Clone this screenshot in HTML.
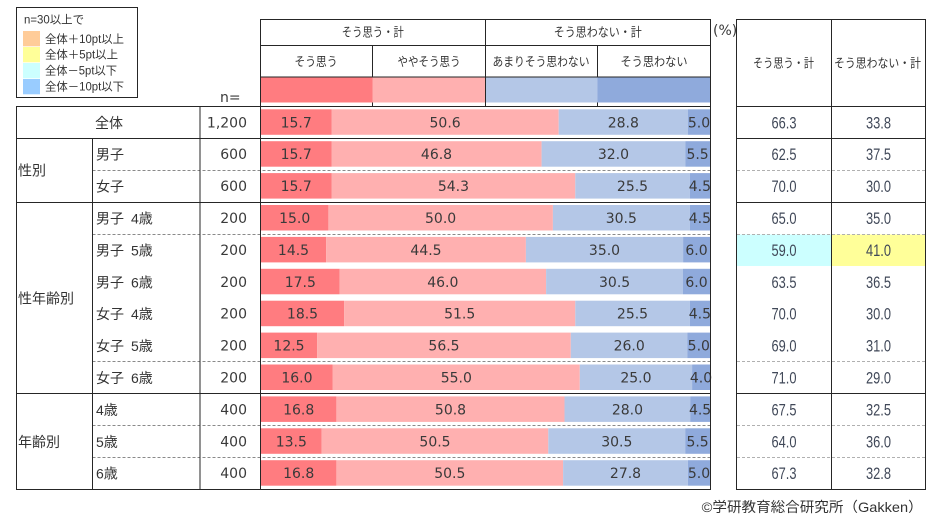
<!DOCTYPE html>
<html><head><meta charset="utf-8"><style>
html,body{margin:0;padding:0;background:#fff;}
svg{display:block;}
.jp{font-family:"Liberation Sans","Noto Sans CJK JP",sans-serif;fill:#333;}
.num{font-family:"DejaVu Sans","Liberation Sans",sans-serif;fill:#3a3a3a;font-size:14px;}
.rn{font-family:"Liberation Sans",sans-serif;fill:#404858;font-size:17px;}
</style></head><body>
<svg width="949" height="526" viewBox="0 0 949 526" xmlns="http://www.w3.org/2000/svg">
<rect width="949" height="526" fill="#fff"/>

<!-- Legend -->
<rect x="16.5" y="7.5" width="121" height="90" fill="#fff" stroke="#262626" stroke-width="1"/>
<text class="jp" x="24" y="23.5" font-size="11.5" textLength="60" lengthAdjust="spacingAndGlyphs">n=30以上で</text>
<rect x="23" y="31" width="17" height="15.3" fill="#FFCC99"/>
<rect x="23" y="47" width="17" height="15.3" fill="#FFFF99"/>
<rect x="23" y="63" width="17" height="15.3" fill="#CCFFFF"/>
<rect x="23" y="79" width="17" height="15.3" fill="#99CCFF"/>
<text class="jp" x="45" y="43" font-size="11.5" textLength="79" lengthAdjust="spacingAndGlyphs">全体＋10pt以上</text>
<text class="jp" x="45" y="58.5" font-size="11.5" textLength="73" lengthAdjust="spacingAndGlyphs">全体＋5pt以上</text>
<text class="jp" x="45" y="74.5" font-size="11.5" textLength="72" lengthAdjust="spacingAndGlyphs">全体－5pt以下</text>
<text class="jp" x="45" y="90.5" font-size="11.5" textLength="79" lengthAdjust="spacingAndGlyphs">全体－10pt以下</text>

<text class="num" x="220" y="102" font-size="14">n=</text>
<text class="num" x="713" y="35" font-size="13">(%)</text>

<!-- Header color row -->
<rect x="261" y="77.5" width="111.5" height="25" fill="#FF7C80"/>
<rect x="372.5" y="77.5" width="113" height="25" fill="#FFB0B0"/>
<rect x="485.5" y="77.5" width="112" height="25" fill="#B4C7E7"/>
<rect x="597.5" y="77.5" width="113" height="25" fill="#8FAADC"/>

<!-- Header texts -->
<text class="jp" x="372.8" y="36.5" font-size="12.5" text-anchor="middle" textLength="62" lengthAdjust="spacingAndGlyphs">そう思う・計</text>
<text class="jp" x="597.8" y="36.5" font-size="12.5" text-anchor="middle" textLength="88" lengthAdjust="spacingAndGlyphs">そう思わない・計</text>
<text class="jp" x="316" y="66" font-size="12.5" text-anchor="middle" textLength="43" lengthAdjust="spacingAndGlyphs">そう思う</text>
<text class="jp" x="429" y="66" font-size="12.5" text-anchor="middle" textLength="63" lengthAdjust="spacingAndGlyphs">ややそう思う</text>
<text class="jp" x="541" y="66" font-size="12.5" text-anchor="middle" textLength="97" lengthAdjust="spacingAndGlyphs">あまりそう思わない</text>
<text class="jp" x="654" y="66" font-size="12.5" text-anchor="middle" textLength="67" lengthAdjust="spacingAndGlyphs">そう思わない</text>
<text class="jp" x="783.5" y="67.5" font-size="12.5" text-anchor="middle" textLength="61" lengthAdjust="spacingAndGlyphs">そう思う・計</text>
<text class="jp" x="877.5" y="67.5" font-size="12.5" text-anchor="middle" textLength="87" lengthAdjust="spacingAndGlyphs">そう思わない・計</text>

<!-- highlight cells -->
<rect x="737" y="234.5" width="94.5" height="31.5" fill="#CCFFFF"/>
<rect x="832" y="234.5" width="93.5" height="31.5" fill="#FFFF99"/>

<!-- Bars rows -->
<g id="rows">
<!-- R1 -->
<g transform="translate(0,106.3)">
<rect x="261" y="3" width="70.5" height="25.5" fill="#FF7C80"/><rect x="331.5" y="3" width="227.2" height="25.5" fill="#FFB0B0"/><rect x="558.7" y="3" width="129.3" height="25.5" fill="#B4C7E7"/><rect x="688" y="3" width="22" height="25.5" fill="#8FAADC"/>
<text class="num" x="296.2" y="21" text-anchor="middle">15.7</text><text class="num" x="445.1" y="21" text-anchor="middle">50.6</text><text class="num" x="623.3" y="21" text-anchor="middle">28.8</text><text class="num" x="699" y="21" text-anchor="middle">5.0</text>
<text class="jp" x="95" y="21.5" font-size="14">全体</text><text class="num" x="247" y="21" text-anchor="end" font-size="13.5">1,200</text>
<text class="rn" x="784" y="22" text-anchor="middle" textLength="25" lengthAdjust="spacingAndGlyphs">66.3</text><text class="rn" x="878.5" y="22" text-anchor="middle" textLength="25" lengthAdjust="spacingAndGlyphs">33.8</text>
</g>
<!-- R2 -->
<g transform="translate(0,138.2)">
<rect x="261" y="3" width="70.5" height="25.5" fill="#FF7C80"/><rect x="331.5" y="3" width="210.1" height="25.5" fill="#FFB0B0"/><rect x="541.6" y="3" width="143.7" height="25.5" fill="#B4C7E7"/><rect x="685.3" y="3" width="24.7" height="25.5" fill="#8FAADC"/>
<text class="num" x="296.2" y="21" text-anchor="middle">15.7</text><text class="num" x="436.5" y="21" text-anchor="middle">46.8</text><text class="num" x="613.4" y="21" text-anchor="middle">32.0</text><text class="num" x="697.6" y="21" text-anchor="middle">5.5</text>
<text class="jp" x="96" y="21.5" font-size="14">男子</text><text class="num" x="247" y="21" text-anchor="end" font-size="13.5">600</text>
<text class="rn" x="784" y="22" text-anchor="middle" textLength="25" lengthAdjust="spacingAndGlyphs">62.5</text><text class="rn" x="878.5" y="22" text-anchor="middle" textLength="25" lengthAdjust="spacingAndGlyphs">37.5</text>
</g>
<!-- R3 -->
<g transform="translate(0,170.1)">
<rect x="261" y="3" width="70.5" height="25.5" fill="#FF7C80"/><rect x="331.5" y="3" width="243.8" height="25.5" fill="#FFB0B0"/><rect x="575.3" y="3" width="114.5" height="25.5" fill="#B4C7E7"/><rect x="689.8" y="3" width="20.2" height="25.5" fill="#8FAADC"/>
<text class="num" x="296.2" y="21" text-anchor="middle">15.7</text><text class="num" x="453.4" y="21" text-anchor="middle">54.3</text><text class="num" x="632.5" y="21" text-anchor="middle">25.5</text><text class="num" x="699.9" y="21" text-anchor="middle">4.5</text>
<text class="jp" x="96" y="21.5" font-size="14">女子</text><text class="num" x="247" y="21" text-anchor="end" font-size="13.5">600</text>
<text class="rn" x="784" y="22" text-anchor="middle" textLength="25" lengthAdjust="spacingAndGlyphs">70.0</text><text class="rn" x="878.5" y="22" text-anchor="middle" textLength="25" lengthAdjust="spacingAndGlyphs">30.0</text>
</g>
<!-- R4 -->
<g transform="translate(0,202.0)">
<rect x="261" y="3" width="67.4" height="25.5" fill="#FF7C80"/><rect x="328.4" y="3" width="224.5" height="25.5" fill="#FFB0B0"/><rect x="552.9" y="3" width="136.9" height="25.5" fill="#B4C7E7"/><rect x="689.8" y="3" width="20.2" height="25.5" fill="#8FAADC"/>
<text class="num" x="294.7" y="21" text-anchor="middle">15.0</text><text class="num" x="440.6" y="21" text-anchor="middle">50.0</text><text class="num" x="621.3" y="21" text-anchor="middle">30.5</text><text class="num" x="699.9" y="21" text-anchor="middle">4.5</text>
<text class="jp" x="96" y="21.5" font-size="14">男子</text><text class="jp" x="131" y="21.5" font-size="14">4歳</text><text class="num" x="247" y="21" text-anchor="end" font-size="13.5">200</text>
<text class="rn" x="784" y="22" text-anchor="middle" textLength="25" lengthAdjust="spacingAndGlyphs">65.0</text><text class="rn" x="878.5" y="22" text-anchor="middle" textLength="25" lengthAdjust="spacingAndGlyphs">35.0</text>
</g>
<!-- R5 -->
<g transform="translate(0,233.9)">
<rect x="261" y="3" width="65.1" height="25.5" fill="#FF7C80"/><rect x="326.1" y="3" width="199.8" height="25.5" fill="#FFB0B0"/><rect x="525.9" y="3" width="157.2" height="25.5" fill="#B4C7E7"/><rect x="683.1" y="3" width="26.9" height="25.5" fill="#8FAADC"/>
<text class="num" x="293.5" y="21" text-anchor="middle">14.5</text><text class="num" x="426" y="21" text-anchor="middle">44.5</text><text class="num" x="604.5" y="21" text-anchor="middle">35.0</text><text class="num" x="696.5" y="21" text-anchor="middle">6.0</text>
<text class="jp" x="96" y="21.5" font-size="14">男子</text><text class="jp" x="131" y="21.5" font-size="14">5歳</text><text class="num" x="247" y="21" text-anchor="end" font-size="13.5">200</text>
<text class="rn" x="784" y="22" text-anchor="middle" textLength="25" lengthAdjust="spacingAndGlyphs">59.0</text><text class="rn" x="878.5" y="22" text-anchor="middle" textLength="25" lengthAdjust="spacingAndGlyphs">41.0</text>
</g>
<!-- R6 -->
<g transform="translate(0,265.8)">
<rect x="261" y="3" width="78.6" height="25.5" fill="#FF7C80"/><rect x="339.6" y="3" width="206.5" height="25.5" fill="#FFB0B0"/><rect x="546.1" y="3" width="136.9" height="25.5" fill="#B4C7E7"/><rect x="683" y="3" width="27" height="25.5" fill="#8FAADC"/>
<text class="num" x="300.3" y="21" text-anchor="middle">17.5</text><text class="num" x="442.8" y="21" text-anchor="middle">46.0</text><text class="num" x="614.6" y="21" text-anchor="middle">30.5</text><text class="num" x="696.5" y="21" text-anchor="middle">6.0</text>
<text class="jp" x="96" y="21.5" font-size="14">男子</text><text class="jp" x="131" y="21.5" font-size="14">6歳</text><text class="num" x="247" y="21" text-anchor="end" font-size="13.5">200</text>
<text class="rn" x="784" y="22" text-anchor="middle" textLength="25" lengthAdjust="spacingAndGlyphs">63.5</text><text class="rn" x="878.5" y="22" text-anchor="middle" textLength="25" lengthAdjust="spacingAndGlyphs">36.5</text>
</g>
<!-- R7 -->
<g transform="translate(0,297.7)">
<rect x="261" y="3" width="83.1" height="25.5" fill="#FF7C80"/><rect x="344.1" y="3" width="231.2" height="25.5" fill="#FFB0B0"/><rect x="575.3" y="3" width="114.5" height="25.5" fill="#B4C7E7"/><rect x="689.8" y="3" width="20.2" height="25.5" fill="#8FAADC"/>
<text class="num" x="302.5" y="21" text-anchor="middle">18.5</text><text class="num" x="459.7" y="21" text-anchor="middle">51.5</text><text class="num" x="632.5" y="21" text-anchor="middle">25.5</text><text class="num" x="699.9" y="21" text-anchor="middle">4.5</text>
<text class="jp" x="96" y="21.5" font-size="14">女子</text><text class="jp" x="131" y="21.5" font-size="14">4歳</text><text class="num" x="247" y="21" text-anchor="end" font-size="13.5">200</text>
<text class="rn" x="784" y="22" text-anchor="middle" textLength="25" lengthAdjust="spacingAndGlyphs">70.0</text><text class="rn" x="878.5" y="22" text-anchor="middle" textLength="25" lengthAdjust="spacingAndGlyphs">30.0</text>
</g>
<!-- R8 -->
<g transform="translate(0,329.6)">
<rect x="261" y="3" width="56.1" height="25.5" fill="#FF7C80"/><rect x="317.1" y="3" width="253.7" height="25.5" fill="#FFB0B0"/><rect x="570.8" y="3" width="116.7" height="25.5" fill="#B4C7E7"/><rect x="687.5" y="3" width="22.5" height="25.5" fill="#8FAADC"/>
<text class="num" x="289" y="21" text-anchor="middle">12.5</text><text class="num" x="444" y="21" text-anchor="middle">56.5</text><text class="num" x="629.2" y="21" text-anchor="middle">26.0</text><text class="num" x="698.8" y="21" text-anchor="middle">5.0</text>
<text class="jp" x="96" y="21.5" font-size="14">女子</text><text class="jp" x="131" y="21.5" font-size="14">5歳</text><text class="num" x="247" y="21" text-anchor="end" font-size="13.5">200</text>
<text class="rn" x="784" y="22" text-anchor="middle" textLength="25" lengthAdjust="spacingAndGlyphs">69.0</text><text class="rn" x="878.5" y="22" text-anchor="middle" textLength="25" lengthAdjust="spacingAndGlyphs">31.0</text>
</g>
<!-- R9 -->
<g transform="translate(0,361.5)">
<rect x="261" y="3" width="71.8" height="25.5" fill="#FF7C80"/><rect x="332.8" y="3" width="247" height="25.5" fill="#FFB0B0"/><rect x="579.8" y="3" width="112.3" height="25.5" fill="#B4C7E7"/><rect x="692.1" y="3" width="17.9" height="25.5" fill="#8FAADC"/>
<text class="num" x="296.9" y="21" text-anchor="middle">16.0</text><text class="num" x="456.3" y="21" text-anchor="middle">55.0</text><text class="num" x="635.9" y="21" text-anchor="middle">25.0</text><text class="num" x="701" y="21" text-anchor="middle">4.0</text>
<text class="jp" x="96" y="21.5" font-size="14">女子</text><text class="jp" x="131" y="21.5" font-size="14">6歳</text><text class="num" x="247" y="21" text-anchor="end" font-size="13.5">200</text>
<text class="rn" x="784" y="22" text-anchor="middle" textLength="25" lengthAdjust="spacingAndGlyphs">71.0</text><text class="rn" x="878.5" y="22" text-anchor="middle" textLength="25" lengthAdjust="spacingAndGlyphs">29.0</text>
</g>
<!-- R10 -->
<g transform="translate(0,393.4)">
<rect x="261" y="3" width="75.4" height="25.5" fill="#FF7C80"/><rect x="336.4" y="3" width="228.1" height="25.5" fill="#FFB0B0"/><rect x="564.5" y="3" width="125.7" height="25.5" fill="#B4C7E7"/><rect x="690.2" y="3" width="19.8" height="25.5" fill="#8FAADC"/>
<text class="num" x="298.7" y="21" text-anchor="middle">16.8</text><text class="num" x="450.5" y="21" text-anchor="middle">50.8</text><text class="num" x="627.4" y="21" text-anchor="middle">28.0</text><text class="num" x="700.1" y="21" text-anchor="middle">4.5</text>
<text class="jp" x="96" y="21.5" font-size="14">4歳</text><text class="num" x="247" y="21" text-anchor="end" font-size="13.5">400</text>
<text class="rn" x="784" y="22" text-anchor="middle" textLength="25" lengthAdjust="spacingAndGlyphs">67.5</text><text class="rn" x="878.5" y="22" text-anchor="middle" textLength="25" lengthAdjust="spacingAndGlyphs">32.5</text>
</g>
<!-- R11 -->
<g transform="translate(0,425.3)">
<rect x="261" y="3" width="60.6" height="25.5" fill="#FF7C80"/><rect x="321.6" y="3" width="226.7" height="25.5" fill="#FFB0B0"/><rect x="548.3" y="3" width="136.9" height="25.5" fill="#B4C7E7"/><rect x="685.2" y="3" width="24.8" height="25.5" fill="#8FAADC"/>
<text class="num" x="291.3" y="21" text-anchor="middle">13.5</text><text class="num" x="435" y="21" text-anchor="middle">50.5</text><text class="num" x="616.8" y="21" text-anchor="middle">30.5</text><text class="num" x="697.6" y="21" text-anchor="middle">5.5</text>
<text class="jp" x="96" y="21.5" font-size="14">5歳</text><text class="num" x="247" y="21" text-anchor="end" font-size="13.5">400</text>
<text class="rn" x="784" y="22" text-anchor="middle" textLength="25" lengthAdjust="spacingAndGlyphs">64.0</text><text class="rn" x="878.5" y="22" text-anchor="middle" textLength="25" lengthAdjust="spacingAndGlyphs">36.0</text>
</g>
<!-- R12 -->
<g transform="translate(0,457.2)">
<rect x="261" y="3" width="75.4" height="25.5" fill="#FF7C80"/><rect x="336.4" y="3" width="226.7" height="25.5" fill="#FFB0B0"/><rect x="563.1" y="3" width="124.8" height="25.5" fill="#B4C7E7"/><rect x="687.9" y="3" width="22.1" height="25.5" fill="#8FAADC"/>
<text class="num" x="298.7" y="21" text-anchor="middle">16.8</text><text class="num" x="449.8" y="21" text-anchor="middle">50.5</text><text class="num" x="625.5" y="21" text-anchor="middle">27.8</text><text class="num" x="699" y="21" text-anchor="middle">5.0</text>
<text class="jp" x="96" y="21.5" font-size="14">6歳</text><text class="num" x="247" y="21" text-anchor="end" font-size="13.5">400</text>
<text class="rn" x="784" y="22" text-anchor="middle" textLength="25" lengthAdjust="spacingAndGlyphs">67.3</text><text class="rn" x="878.5" y="22" text-anchor="middle" textLength="25" lengthAdjust="spacingAndGlyphs">32.8</text>
</g>
</g>

<!-- group labels -->
<text class="jp" x="18" y="175.5" font-size="14">性別</text>
<text class="jp" x="18" y="303.5" font-size="14">性年齢別</text>
<text class="jp" x="18" y="447" font-size="14">年齢別</text>

<!-- dashed lines -->
<g stroke="#8a8a8a" stroke-width="1" stroke-dasharray="3,2" fill="none">
<path d="M92.5 170.5H710M92.5 234.5H710M92.5 361.5H710M92.5 425.5H710M92.5 457.5H710"/>
</g>
<g stroke="#b0b0b0" stroke-width="1" stroke-dasharray="3,2" fill="none">
<path d="M737 170.5H925M737 234.5H925M737 361.5H925M737 425.5H925M737 457.5H925"/>
</g>

<!-- solid lines -->
<g stroke="#262626" stroke-width="1" fill="none">
<!-- header box -->
<path d="M260.5 19.5H710.5M260.5 45.5H710.5M260.5 77H710.5"/>
<path d="M485.5 19.5V106M372.5 45.5V77M597.5 45.5V77M372.5 102.5V106M597.5 102.5V106"/>
<!-- main table horizontals -->
<path d="M16 106.5H710.5M16 138.5H710.5M16 202.5H710.5M16 393.5H710.5M16 489.5H710.5"/>
<!-- verticals -->
<path d="M16.5 106V490M92.5 138.5V490M200 106V490M260.5 19V490M710.5 19V490"/>
<!-- right table -->
<path d="M736.5 19.5H925.5M736.5 106.5H925.5M736.5 138.5H925.5M736.5 202.5H925.5M736.5 393.5H925.5M736.5 489.5H925.5"/>
<path d="M736.5 19V490M831.5 19V490M925.5 19V490"/>
</g>

<text class="jp" x="701.7" y="512" font-size="14" textLength="221" lengthAdjust="spacingAndGlyphs">©学研教育総合研究所（Gakken）</text>
</svg>
</body></html>
